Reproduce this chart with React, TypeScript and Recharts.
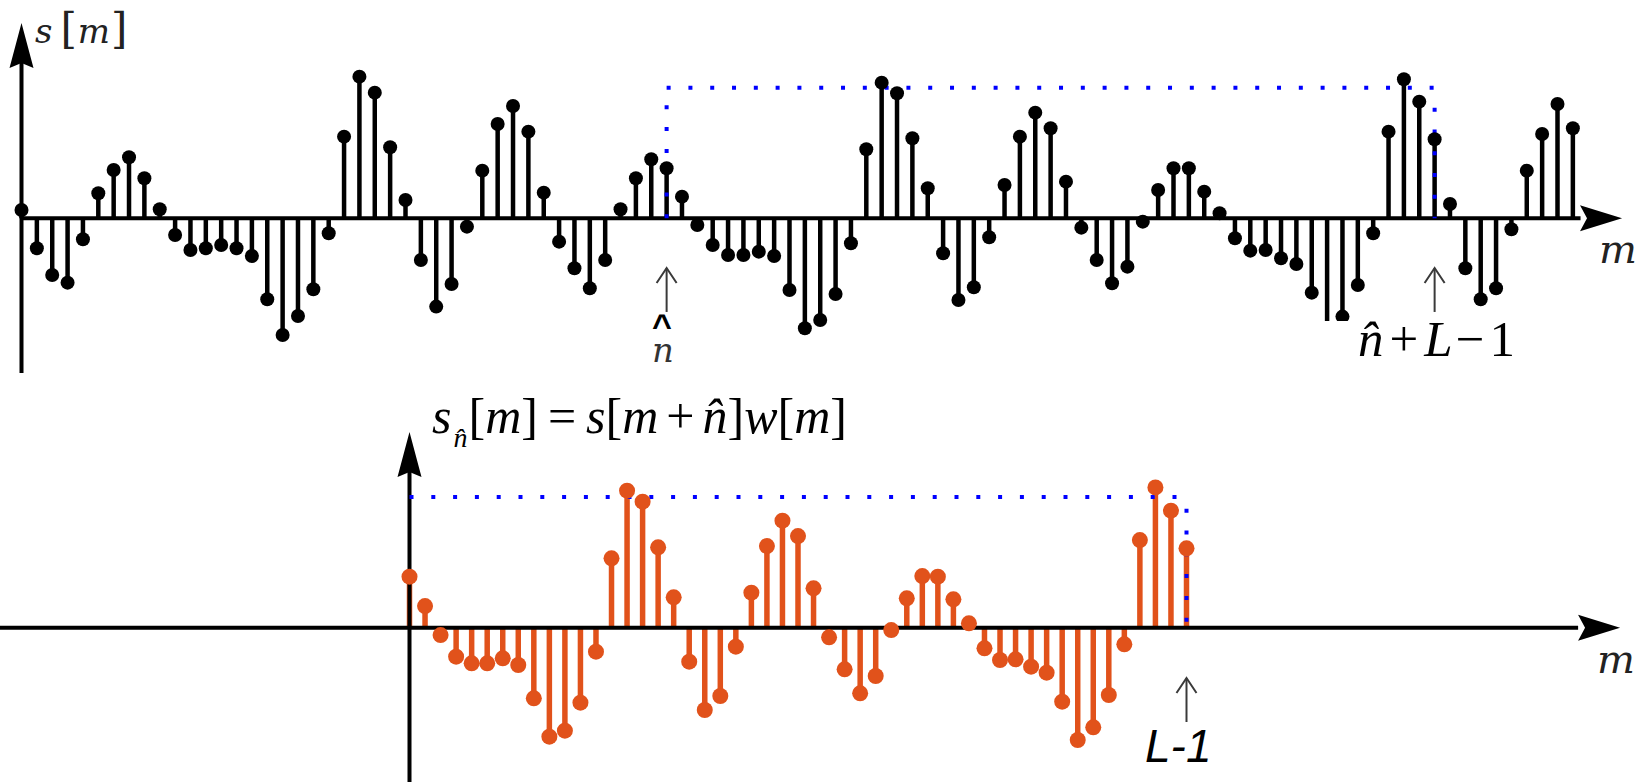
import React from "react";
import {
  ComposedChart,
  Scatter,
  ErrorBar,
  XAxis,
  YAxis,
  ReferenceLine,
  ReferenceDot,
} from "recharts";

// s[m], m = 0..101
const signal = [
  0.25, -0.9, -1.7, -1.93, -0.63, 0.75, 1.45, 1.83, 1.2, 0.27,
  -0.5, -0.95, -0.9, -0.8, -0.9, -1.13, -2.43, -3.5, -2.93, -2.13,
  -0.45, 2.45, 4.25, 3.77, 2.13, 0.55, -1.25, -2.65, -1.97, -0.25,
  1.43, 2.83, 3.37, 2.6, 0.77, -0.7, -1.5, -2.1, -1.25, 0.27,
  1.2, 1.77, 1.5, 0.65, -0.2, -0.8, -1.1, -1.1, -1.0, -1.13,
  -2.15, -3.3, -3.05, -2.27, -0.75, 2.07, 4.07, 3.75, 2.4, 0.9,
  -1.05, -2.45, -2.07, -0.57, 1.0, 2.45, 3.17, 2.7, 1.1, -0.28,
  -1.25, -1.95, -1.45, -0.1, 0.85, 1.5, 1.5, 0.8, 0.15, -0.6,
  -0.97, -0.95, -1.2, -1.37, -2.23, -3.37, -2.95, -2.0, -0.45, 2.6,
  4.17, 3.5, 2.37, 0.43, -1.5, -2.43, -2.1, -0.33, 1.43, 2.53,
  3.43, 2.7,
];

// s_n[m] = s[m + n]w[m], m = 0..L-1
const frame = [
  1.53, 0.65, -0.22, -0.87, -1.07, -1.07, -0.92, -1.12, -2.12, -3.27,
  -3.09, -2.25, -0.72, 2.08, 4.11, 3.78, 2.41, 0.91, -1.02, -2.47,
  -2.05, -0.57, 1.05, 2.45, 3.21, 2.75, 1.18, -0.29, -1.25, -1.97,
  -1.45, -0.07, 0.88, 1.55, 1.53, 0.85, 0.13, -0.62, -0.97, -0.95,
  -1.17, -1.35, -2.22, -3.37, -2.99, -2.02, -0.5, 2.63, 4.21, 3.51,
  2.38,
];

const N_HAT = 42;
const L = 51;
const WINDOW_LEVEL = 3.92;

const toStems = (vals: number[]) =>
  vals.map((v, m) => ({ m, v, err: v > 0 ? [v, 0] : [0, -v] }));

const topData = toStems(signal);
const bottomData = toStems(frame);

const W = 1648;
const PX = 33.33; // px per unit, vertical

// top chart layout
const TOP_H = 390;
const TOP_AXIS_Y = 218.3;
const TOP_DX = 15.36;
const TOP_X0 = -21.5 / TOP_DX;
const topX: [number, number] = [TOP_X0, TOP_X0 + W / TOP_DX];
const topY: [number, number] = [-(TOP_H - TOP_AXIS_Y) / PX, TOP_AXIS_Y / PX];

// bottom chart layout
const BOT_TOP = 390;
const BOT_H = 392;
const BOT_AXIS_Y = 627.7 - BOT_TOP;
const BOT_DX = 15.54;
const BOT_X0 = -409.5 / BOT_DX;
const botX: [number, number] = [BOT_X0, BOT_X0 + W / BOT_DX];
const botY: [number, number] = [-(BOT_H - BOT_AXIS_Y) / PX, BOT_AXIS_Y / PX];

const ORANGE = "#e1521b";
const BLUE = "#0000ff";

const upHead = (p: any) => (
  <polygon
    points={`${p.cx},${p.cy} ${p.cx + 12},${p.cy + 45} ${p.cx},${p.cy + 40} ${p.cx - 12},${p.cy + 45}`}
    fill="#000"
  />
);
const rightHead = (p: any) => (
  <polygon
    points={`${p.cx},${p.cy} ${p.cx - 42},${p.cy - 13} ${p.cx - 35},${p.cy} ${p.cx - 42},${p.cy + 13}`}
    fill="#000"
  />
);
const thinArrow = (p: any) => (
  <g stroke="#3a3a3a" strokeWidth={2} fill="none">
    <line x1={p.cx} y1={p.cy} x2={p.cx} y2={p.cy + 44} />
    <polyline points={`${p.cx - 10},${p.cy + 15} ${p.cx},${p.cy} ${p.cx + 10},${p.cy + 15}`} />
  </g>
);

const dotted = { stroke: BLUE, strokeWidth: 4, strokeDasharray: "4 17.8" };

const serif = "'Liberation Serif', Tinos, 'Times New Roman', Times, serif";
const dejavu = "'DejaVu Serif', serif";
const sans = "'Liberation Sans', Arimo, Arial, sans-serif";
const abs = (left: number, top: number, extra: React.CSSProperties = {}): React.CSSProperties => ({
  position: "absolute",
  left,
  top,
  lineHeight: 1,
  whiteSpace: "nowrap",
  ...extra,
});

const it: React.CSSProperties = { fontStyle: "italic" };

export default function App() {
  return (
    <div
      style={{
        position: "absolute",
        left: 0,
        top: 0,
        width: W,
        height: 782,
        background: "#fff",
        overflow: "hidden",
      }}
    >
      <div style={{ position: "absolute", left: 0, top: 0 }}>
        <ComposedChart width={W} height={TOP_H} data={topData} margin={{ top: 0, right: 0, bottom: 0, left: 0 }}>
          <XAxis dataKey="m" type="number" domain={topX} hide allowDataOverflow />
          <YAxis dataKey="v" type="number" domain={topY} hide allowDataOverflow />
          <Scatter
            data={topData}
            isAnimationActive={false}
            shape={(p: any) => <circle cx={p.cx} cy={p.cy} r={7} fill="#000" />}
          >
            <ErrorBar dataKey="err" direction="y" width={0} stroke="#000" strokeWidth={4.5} isAnimationActive={false} />
          </Scatter>
          <ReferenceLine segment={[{ x: 0, y: 0 }, { x: 101.5, y: 0 }]} stroke="#000" strokeWidth={4} />
          <ReferenceLine segment={[{ x: 0, y: -4.64 }, { x: 0, y: 4.8 }]} stroke="#000" strokeWidth={4} />
          <ReferenceDot x={0} y={5.86} shape={upHead} />
          <ReferenceDot x={104.2} y={0} shape={rightHead} />
          <ReferenceLine segment={[{ x: N_HAT, y: 0 }, { x: N_HAT, y: WINDOW_LEVEL }]} {...dotted} />
          <ReferenceLine
            segment={[{ x: N_HAT, y: WINDOW_LEVEL }, { x: N_HAT + L - 1, y: WINDOW_LEVEL }]}
            {...dotted}
          />
          <ReferenceLine
            segment={[{ x: N_HAT + L - 1, y: WINDOW_LEVEL - 0.6 }, { x: N_HAT + L - 1, y: 0 }]}
            {...dotted}
          />
          <ReferenceDot x={N_HAT} y={-1.49} shape={thinArrow} />
          <ReferenceDot x={N_HAT + L - 1} y={-1.49} shape={thinArrow} />
        </ComposedChart>
      </div>

      <div style={{ position: "absolute", left: 0, top: BOT_TOP }}>
        <ComposedChart width={W} height={BOT_H} data={bottomData} margin={{ top: 0, right: 0, bottom: 0, left: 0 }}>
          <XAxis dataKey="m" type="number" domain={botX} hide allowDataOverflow />
          <YAxis dataKey="v" type="number" domain={botY} hide allowDataOverflow />
          <Scatter
            data={bottomData}
            isAnimationActive={false}
            shape={(p: any) => <circle cx={p.cx} cy={p.cy} r={8} fill={ORANGE} />}
          >
            <ErrorBar dataKey="err" direction="y" width={0} stroke={ORANGE} strokeWidth={5.5} isAnimationActive={false} />
          </Scatter>
          <ReferenceLine segment={[{ x: botX[0], y: 0 }, { x: 75.2, y: 0 }]} stroke="#000" strokeWidth={4} />
          <ReferenceLine segment={[{ x: 0, y: botY[0] }, { x: 0, y: 4.8 }]} stroke="#000" strokeWidth={4} />
          <ReferenceDot x={0} y={5.87} shape={upHead} />
          <ReferenceDot x={77.9} y={0} shape={rightHead} />
          <ReferenceLine segment={[{ x: 0, y: WINDOW_LEVEL }, { x: L - 1, y: WINDOW_LEVEL }]} {...dotted} />
          <ReferenceLine segment={[{ x: L - 1, y: WINDOW_LEVEL - 0.35 }, { x: L - 1, y: 0 }]} {...dotted} />
          <ReferenceDot x={L - 1} y={-1.51} shape={thinArrow} />
        </ComposedChart>
      </div>

      {/* labels */}
      <div style={abs(35, 8, { display: "flex", alignItems: "baseline", fontFamily: dejavu, color: "#222" })}>
        <span style={{ fontSize: 34, ...it }}>s</span>
        <span style={{ fontSize: 42, marginLeft: 8 }}>[</span>
        <span style={{ fontSize: 34, ...it, marginLeft: 1 }}>m</span>
        <span style={{ fontSize: 42, marginLeft: 1 }}>]</span>
      </div>
      <div style={abs(1599, 229, { fontFamily: dejavu, ...it, fontSize: 40, color: "#222" })}>m</div>
      <div style={abs(1597, 639, { fontFamily: dejavu, ...it, fontSize: 40, color: "#222" })}>m</div>

      <div style={abs(652, 314.5, { fontFamily: sans, fontWeight: 700, fontSize: 34, lineHeight: "20px" })}>^</div>
      <div style={abs(652, 338, { fontFamily: dejavu, ...it, fontSize: 34, lineHeight: "24px", color: "#333" })}>n</div>

      <div style={abs(1320, 321, { width: 220, height: 47, background: "#fff" })} />
      <div style={abs(1358, 314, { fontFamily: serif, fontSize: 51, color: "#000" })}>
        <span style={it}>{"n\u0302"}</span>
        <span style={{ marginLeft: 6 }}>+</span>
        <span style={{ marginLeft: 6, ...it }}>L</span>
        <span style={{ marginLeft: 3 }}>−</span>
        <span style={{ marginLeft: 5 }}>1</span>
      </div>

      <div style={abs(432, 391, { fontFamily: serif, fontSize: 50, color: "#000" })}>
        <span style={it}>s</span>
        <span style={{ fontSize: 28, position: "relative", top: 14, marginLeft: 2, marginRight: 1, ...it }}>
          {"n\u0302"}
        </span>
        <span>[</span>
        <span style={it}>m</span>
        <span>]</span>
        <span style={{ margin: "0 10px" }}>=</span>
        <span style={it}>s</span>
        <span>[</span>
        <span style={it}>m</span>
        <span style={{ margin: "0 8px" }}>+</span>
        <span style={it}>{"n\u0302"}</span>
        <span>]</span>
        <span style={it}>w</span>
        <span>[</span>
        <span style={it}>m</span>
        <span>]</span>
      </div>

      <div style={abs(1145, 723, { fontFamily: sans, ...it, fontSize: 46 })}>L-1</div>
    </div>
  );
}
